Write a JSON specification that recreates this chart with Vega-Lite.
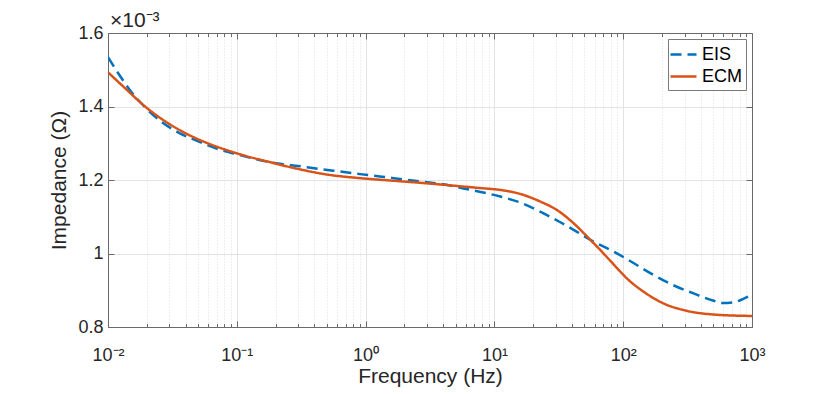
{
  "$schema": "https://vega.github.io/schema/vega-lite/v6.json",
  "width": 644,
  "height": 294,
  "autosize": "none",
  "padding": {"left": 108, "top": 33, "right": 78, "bottom": 67},
  "background": "white",
  "config": {
    "view": {"stroke": null},
    "font": "Liberation Sans",
    "axis": {
      "labelFont": "Liberation Sans",
      "titleFont": "Liberation Sans",
      "labelColor": "#262626",
      "titleColor": "#262626",
      "titleFontWeight": "normal",
      "domainColor": "#6a6a6a",
      "domainWidth": 1,
      "tickColor": "#6a6a6a",
      "tickWidth": 1
    }
  },
  "title": {
    "text": "×10⁻³",
    "anchor": "start",
    "frame": "group",
    "baseline": "alphabetic",
    "offset": -3,
    "dx": 2,
    "dy": 21,
    "fontSize": 21,
    "fontWeight": "normal",
    "color": "#262626",
    "font": "Liberation Sans"
  },
  "data": {
    "values": [
      {"series": "EIS", "f": 0.01, "z": 0.001534},
      {"series": "EIS", "f": 0.0124, "z": 0.001483},
      {"series": "EIS", "f": 0.0153, "z": 0.001438},
      {"series": "EIS", "f": 0.0194, "z": 0.001398},
      {"series": "EIS", "f": 0.0261, "z": 0.001358},
      {"series": "EIS", "f": 0.0362, "z": 0.001327},
      {"series": "EIS", "f": 0.0502, "z": 0.001305},
      {"series": "EIS", "f": 0.0718, "z": 0.001284},
      {"series": "EIS", "f": 0.1028, "z": 0.001269},
      {"series": "EIS", "f": 0.147, "z": 0.001255},
      {"series": "EIS", "f": 0.216, "z": 0.001244},
      {"series": "EIS", "f": 0.3, "z": 0.001238},
      {"series": "EIS", "f": 0.443, "z": 0.00123},
      {"series": "EIS", "f": 0.633, "z": 0.001223},
      {"series": "EIS", "f": 0.906, "z": 0.001216},
      {"series": "EIS", "f": 1.34, "z": 0.001209},
      {"series": "EIS", "f": 1.91, "z": 0.001202},
      {"series": "EIS", "f": 2.81, "z": 0.001195},
      {"series": "EIS", "f": 3.9, "z": 0.001189},
      {"series": "EIS", "f": 5.74, "z": 0.001177},
      {"series": "EIS", "f": 8.2, "z": 0.001166},
      {"series": "EIS", "f": 11.1, "z": 0.001155},
      {"series": "EIS", "f": 16.9, "z": 0.001135},
      {"series": "EIS", "f": 23.5, "z": 0.001111},
      {"series": "EIS", "f": 32.5, "z": 0.001085},
      {"series": "EIS", "f": 43.8, "z": 0.001059},
      {"series": "EIS", "f": 59, "z": 0.001032},
      {"series": "EIS", "f": 84.5, "z": 0.001005},
      {"series": "EIS", "f": 114, "z": 0.000979},
      {"series": "EIS", "f": 171, "z": 0.000942},
      {"series": "EIS", "f": 244, "z": 0.000914},
      {"series": "EIS", "f": 348, "z": 0.000892},
      {"series": "EIS", "f": 497, "z": 0.000872},
      {"series": "EIS", "f": 595, "z": 0.000865},
      {"series": "EIS", "f": 713, "z": 0.000867},
      {"series": "EIS", "f": 850, "z": 0.000876},
      {"series": "EIS", "f": 1000, "z": 0.000888},
      {"series": "ECM", "f": 0.01, "z": 0.001493},
      {"series": "ECM", "f": 0.01355, "z": 0.00145},
      {"series": "ECM", "f": 0.0194, "z": 0.0014},
      {"series": "ECM", "f": 0.0277, "z": 0.00136},
      {"series": "ECM", "f": 0.0396, "z": 0.001328},
      {"series": "ECM", "f": 0.0566, "z": 0.001303},
      {"series": "ECM", "f": 0.0809, "z": 0.001283},
      {"series": "ECM", "f": 0.116, "z": 0.001266},
      {"series": "ECM", "f": 0.161, "z": 0.001253},
      {"series": "ECM", "f": 0.275, "z": 0.001233},
      {"series": "ECM", "f": 0.499, "z": 0.001215},
      {"series": "ECM", "f": 0.906, "z": 0.001205},
      {"series": "ECM", "f": 1.64, "z": 0.001198},
      {"series": "ECM", "f": 2.98, "z": 0.001191},
      {"series": "ECM", "f": 5.41, "z": 0.001183},
      {"series": "ECM", "f": 7.8, "z": 0.001178},
      {"series": "ECM", "f": 11.1, "z": 0.001173},
      {"series": "ECM", "f": 15.9, "z": 0.001162},
      {"series": "ECM", "f": 22.8, "z": 0.001141},
      {"series": "ECM", "f": 30.7, "z": 0.001118},
      {"series": "ECM", "f": 41.3, "z": 0.001082},
      {"series": "ECM", "f": 52.5, "z": 0.001046},
      {"series": "ECM", "f": 66.6, "z": 0.001009},
      {"series": "ECM", "f": 89.7, "z": 0.00096},
      {"series": "ECM", "f": 107, "z": 0.000932},
      {"series": "ECM", "f": 144, "z": 0.000896},
      {"series": "ECM", "f": 206, "z": 0.000864},
      {"series": "ECM", "f": 312, "z": 0.000844},
      {"series": "ECM", "f": 500, "z": 0.000834},
      {"series": "ECM", "f": 1000, "z": 0.00083}
    ]
  },
  "layer": [
    {
      "mark": {"type": "line", "strokeWidth": 2.5, "interpolate": "monotone", "clip": true},
      "encoding": {
        "x": {
          "field": "f",
          "type": "quantitative",
          "scale": {"type": "log", "domain": [0.01, 1000], "nice": false},
          "axis": {
            "orient": "bottom",
            "values": [0.01, 0.02, 0.03, 0.04, 0.05, 0.06, 0.07, 0.08, 0.09, 0.1, 0.2, 0.3, 0.4, 0.5, 0.6, 0.7, 0.8, 0.9, 1, 2, 3, 4, 5, 6, 7, 8, 9, 10, 20, 30, 40, 50, 60, 70, 80, 90, 100, 200, 300, 400, 500, 600, 700, 800, 900, 1000],
            "labelExpr": "abs(log(datum.value)/LN10 - round(log(datum.value)/LN10)) < 0.001 ? ['10⁻²','10⁻¹','10⁰','10¹','10²','10³'][round(log(datum.value)/LN10)+2] : ''",
            "labelOverlap": false,
            "labelFlush": false,
            "labelBound": false,
            "labelFontSize": 18,
            "labelPadding": 25,
            "title": "Frequency (Hz)",
            "titleFontSize": 21,
            "titlePadding": -1,
            "grid": true,
            "gridColor": {"condition": {"test": "abs(log(datum.value)/LN10 - round(log(datum.value)/LN10)) < 0.001", "value": "#e3e3e3"}, "value": "#dedede"},
            "gridDash": {"condition": {"test": "abs(log(datum.value)/LN10 - round(log(datum.value)/LN10)) < 0.001", "value": []}, "value": [1, 2]},
            "tickSize": {"condition": {"test": "abs(log(datum.value)/LN10 - round(log(datum.value)/LN10)) < 0.001", "value": -6}, "value": -3.5}
          }
        },
        "y": {
          "field": "z",
          "type": "quantitative",
          "scale": {"domain": [0.0008, 0.0016], "nice": false, "zero": false},
          "axis": {
            "orient": "left",
            "values": [0.0008, 0.001, 0.0012, 0.0014, 0.0016],
            "labelExpr": "format(datum.value*1000, '~g')",
            "labelFontSize": 18,
            "labelPadding": 11,
            "tickSize": -6,
            "grid": true,
            "gridColor": "#e3e3e3",
            "title": "Impedance (Ω)",
            "titleFontSize": 21,
            "titlePadding": 8
          }
        },
        "color": {
          "field": "series",
          "type": "nominal",
          "scale": {"domain": ["EIS", "ECM"], "range": ["#0072BD", "#D95319"]},
          "legend": {
            "title": null,
            "orient": "top-right",
            "offset": 6,
            "padding": 4,
            "fillColor": "white",
            "strokeColor": "#7a7a7a",
            "symbolType": "M-1.3,0H1.3",
            "symbolSize": 400,
            "symbolStrokeWidth": 2.5,
            "labelFontSize": 18,
            "labelColor": "#000000",
            "labelFont": "Liberation Sans",
            "labelOffset": 7,
            "rowPadding": 1
          }
        },
        "strokeDash": {
          "field": "series",
          "type": "nominal",
          "scale": {"domain": ["EIS", "ECM"], "range": [[11, 6], [1, 0]]},
          "legend": {
            "title": null,
            "orient": "top-right",
            "offset": 6,
            "padding": 4,
            "fillColor": "white",
            "strokeColor": "#7a7a7a",
            "symbolType": "M-1.3,0H1.3",
            "symbolSize": 400,
            "symbolStrokeWidth": 2.5,
            "labelFontSize": 18,
            "labelColor": "#000000",
            "labelFont": "Liberation Sans",
            "labelOffset": 7,
            "rowPadding": 1
          }
        }
      }
    },
    {
      "mark": {"type": "point", "opacity": 0},
      "encoding": {
        "x": {
          "field": "f",
          "type": "quantitative",
          "axis": {
            "orient": "top",
            "values": [0.01, 0.02, 0.03, 0.04, 0.05, 0.06, 0.07, 0.08, 0.09, 0.1, 0.2, 0.3, 0.4, 0.5, 0.6, 0.7, 0.8, 0.9, 1, 2, 3, 4, 5, 6, 7, 8, 9, 10, 20, 30, 40, 50, 60, 70, 80, 90, 100, 200, 300, 400, 500, 600, 700, 800, 900, 1000],
            "labels": false,
            "grid": false,
            "title": null,
            "tickSize": {"condition": {"test": "abs(log(datum.value)/LN10 - round(log(datum.value)/LN10)) < 0.001", "value": -6}, "value": -3.5}
          }
        },
        "y": {
          "field": "z",
          "type": "quantitative",
          "axis": {
            "orient": "right",
            "values": [0.0008, 0.001, 0.0012, 0.0014, 0.0016],
            "labels": false,
            "grid": false,
            "title": null,
            "tickSize": -6
          }
        }
      }
    }
  ],
  "resolve": {"axis": {"x": "independent", "y": "independent"}}
}
